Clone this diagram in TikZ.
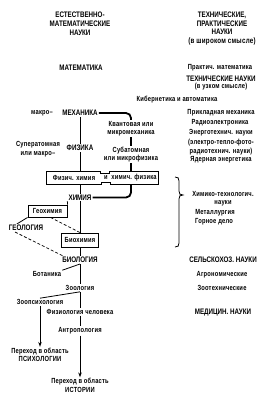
\documentclass[tikz,border=0pt]{standalone}
\usepackage{fontspec}
\setmainfont[FakeStretch=0.78]{Liberation Sans}
\usetikzlibrary{calc,arrows.meta}
\begin{document}
\begin{tikzpicture}[x=1pt,y=-1pt,
  capt/.style={font=\fontsize{8}{8.8}\selectfont\bfseries, inner sep=1pt, align=center},
  sm/.style={font=\fontsize{7.4}{8.4}\selectfont\bfseries\addfontfeatures{LetterSpace=3}, inner sep=1pt, align=center},
  thinline/.style={line width=0.8pt},
  thickline/.style={line width=1.8pt, rounded corners=5pt},
  boxed/.style={draw, line width=0.9pt, inner sep=2pt, minimum height=12pt},
  arr/.style={-{Stealth[length=5pt,width=3.5pt]}},
  dashline/.style={dash pattern=on 3pt off 2pt, line width=0.7pt}
]
\useasboundingbox (0,0) rectangle (275,400);

% headers
\node[capt] (hL) at (80,24) {ЕСТЕСТВЕННО-\\МАТЕМАТИЧЕСКИЕ\\НАУКИ};
\node[capt] (hR) at (222,28.5) {ТЕХНИЧЕСКИЕ,\\ПРАКТИЧЕСКИЕ\\НАУКИ\\{\addfontfeatures{LetterSpace=3}(в широком смысле)}};

\node[capt] (math) at (81,68) {МАТЕМАТИКА};
\node[sm] (pmath) at (220,68) {Практич. математика};
\node[capt] (tech) at (221,79) {ТЕХНИЧЕСКИЕ НАУКИ};
\node[sm] (narrow) at (221,87) {(в узком смысле)};
\node[sm] (cyb) at (177,100) {Кибернетика и автоматика};

\node[sm] (makro) at (42,113) {макро–};
\node[capt] (mech) at (80,113) {МЕХАНИКА};
\node[sm] (appl) at (221,113) {Прикладная механика};
\node[sm] (quant) at (131,128.5) {Квантовая или\\микромеханика};
\node[sm] (radio) at (220,123) {Радиоэлектроника};
\node[sm] (energ) at (221,133) {Энерготехнич. науки};
\node[sm] (elec) at (221,143) {(электро-тепло-фото-};
\node[sm] (radt) at (221,152) {радиотехнич. науки)};
\node[sm] (nucl) at (221,160) {Ядерная энергетика};

\node[sm] (super) at (38,149) {Суператомная\\или макро–};
\node[capt] (phys) at (80,148) {ФИЗИКА};
\node[sm] (subat) at (131,154.5) {Субатомная\\или микрофизика};

% physical chemistry box
\node[minimum width=111pt, minimum height=12pt, inner sep=0pt] (box) at (102.5,178) {};
\node[sm] (pc1) at (74,178) {Физич. химия};
\node[sm] (andw) at (106,178) {и};
\node[sm] (pc2) at (134,178) {химич. физика};
\draw[line width=0.9pt] (box.north west) -- ++(54,0) -- ++(0,2) -- ++(9,0) -- ++(0,-2) -- (box.north east)
  -- (box.south east) -- ++(-48,0) -- ++(0,-2) -- ++(-9,0) -- ++(0,2) -- (box.south west) -- cycle;

\node[capt] (chem) at (80,197.5) {ХИМИЯ};
\node[sm, boxed, minimum width=39pt] (geochem) at (47.5,211) {Геохимия};
\node[capt] (geol) at (26,228) {ГЕОЛОГИЯ};
\node[sm, boxed, minimum width=37pt, minimum height=14pt] (biochem) at (80,240) {Биохимия};
\node[capt] (bio) at (80,260) {БИОЛОГИЯ};
\node[sm] (bot) at (47,274) {Ботаника};
\node[sm] (zoo) at (80,288) {Зоология};
\node[sm] (zoopsy) at (40,302) {Зоопсихология};
\node[sm] (physhum) at (80,312) {Физиология человека};
\node[sm] (anthro) at (80,331) {Антропология};
\node[sm] (psy) at (40,355) {Переход в область\\ПСИХОЛОГИИ};
\node[sm] (hist) at (80,385.5) {Переход в область\\ИСТОРИИ};

% right lower column
\node[sm] (chemtech) at (223,198.5) {Химико-технологич.\\науки};
\node[sm] (metal) at (215,213) {Металлургия};
\node[sm] (mining) at (214,222) {Горное дело};
\node[capt] (agri) at (223,260) {СЕЛЬСКОХОЗ. НАУКИ};
\node[sm] (agro) at (222,275) {Агрономические};
\node[sm] (zootech) at (222,288) {Зоотехнические};
\node[capt] (med) at (223,313) {МЕДИЦИН. НАУКИ};

% brace
\draw[line width=0.8pt] (175,177) .. controls (178,177) and (179,178) .. (179,181) -- (179,191)
  .. controls (179,194) and (180,195) .. (183,195) .. controls (180,195) and (179,196) .. (179,199)
  -- (179,243) .. controls (179,246) and (178,247) .. (175,247);

% main vertical line
\draw[thinline] (mech) -- (phys);
\draw[thinline] (phys) -- (phys |- box.north);
\draw[thinline] (chem |- box.south) -- (chem.north);
\draw[thinline] (chem) -- (biochem);
\draw[thinline] (biochem) -- (bio);
\draw[thinline] (bio) -- (zoo);
\draw[thinline] (zoo) -- (physhum);
\draw[thinline] (physhum) -- (anthro);
\draw[thinline, arr] (anthro) -- (hist);

\coordinate (bj) at (80,264);
\draw[thinline] (bj) -- (bot.north east);
\draw[thinline] (zoo.south) -- (zoopsy.north);
\draw[thinline, arr] (zoopsy) -- (psy);

% thick line
\draw[thickline] (mech.east) -- (quant.north |- mech.east) -- (quant.north);
\draw[thickline] (quant) -- (subat);
\draw[thickline] (subat) -- (subat |- box.north);
\draw[thickline] (subat |- box.south) -- (subat |- chem) -- (chem.east);

% geology relations
\draw[thinline] (chem.south west) -- (geochem.north east);
\draw[thinline] ($(geol.north west)!0.25!(geol.north east)$) -- (geochem.south west);
\draw[dashline] ($(geochem.south)+(3,0)$) -- (biochem.north);
\draw[dashline] ($(geol.south west)!0.2!(geol.south east)$) -- ($(bio.north west)+(2,0)$);
\end{tikzpicture}
\end{document}
